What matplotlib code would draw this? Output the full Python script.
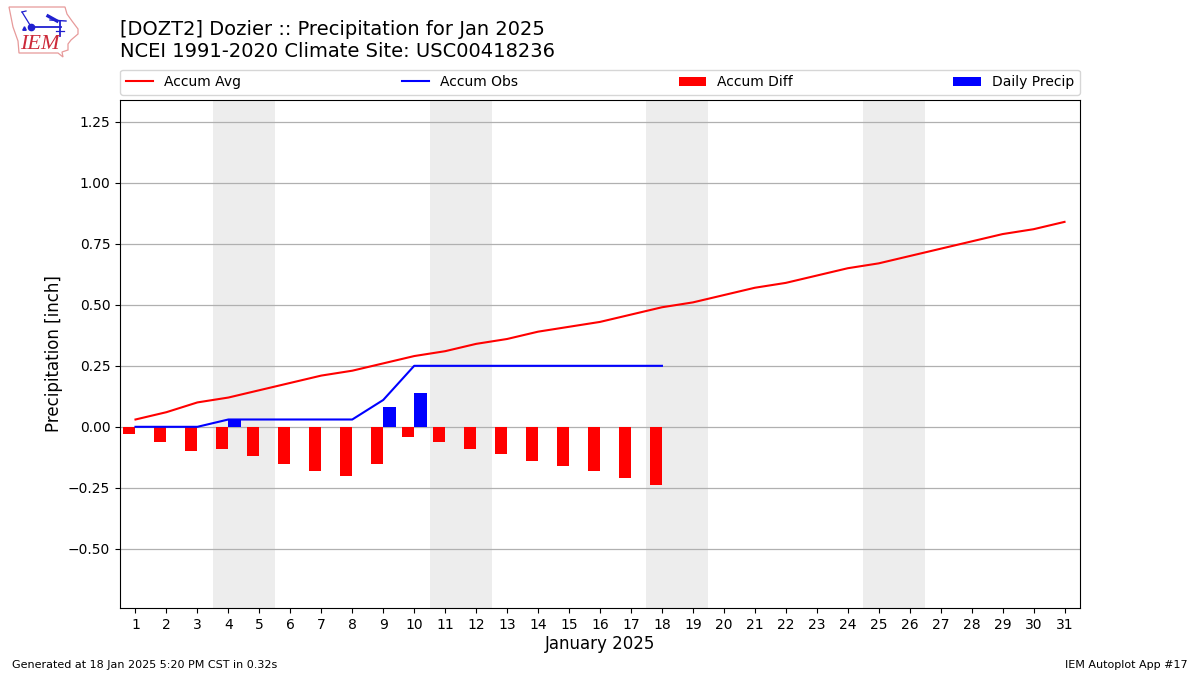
import matplotlib
matplotlib.use("Agg")
import matplotlib.pyplot as plt
from matplotlib.lines import Line2D
from matplotlib.patches import Polygon

days = list(range(1, 32))
accum_avg = [0.03, 0.06, 0.10, 0.12, 0.15, 0.18, 0.21, 0.23, 0.26, 0.29, 0.31, 0.34, 0.36, 0.39, 0.41, 0.43,
             0.46, 0.49, 0.51, 0.54, 0.57, 0.59, 0.62, 0.65, 0.67, 0.70, 0.73, 0.76, 0.79, 0.81, 0.84]
obs_days = list(range(1, 19))
accum_obs = [0, 0, 0, 0.03, 0.03, 0.03, 0.03, 0.03, 0.11, 0.25, 0.25, 0.25, 0.25, 0.25, 0.25, 0.25, 0.25, 0.25]
accum_diff = [-0.03, -0.062, -0.10, -0.09, -0.12, -0.152, -0.18, -0.20, -0.152, -0.04, -0.062, -0.09, -0.11,
              -0.14, -0.16, -0.18, -0.21, -0.24]
daily_precip = [0, 0, 0, 0.03, 0, 0, 0, 0, 0.08, 0.14, 0, 0, 0, 0, 0, 0, 0, 0]
weekends = [4, 11, 18, 25]
yticks = [-0.50, -0.25, 0, 0.25, 0.50, 0.75, 1.00, 1.25]

fig = plt.figure(figsize=(12, 6.75), dpi=100)
ax = fig.add_axes([0.1, 0.0995, 0.8, 0.7525])

for w in weekends:
    ax.axvspan(w - 0.5, w + 1.5, color="#ededed", lw=0, zorder=0)

ax.bar(days[:18], accum_diff, width=-0.4, align="edge", color="red", label="Accum Diff", zorder=2)
ax.bar(obs_days, daily_precip, width=0.4, align="edge", color="blue", label="Daily Precip", zorder=2)
ax.plot(days, accum_avg, color="red", lw=1.5, label="Accum Avg", zorder=3)
ax.plot(obs_days, accum_obs, color="blue", lw=1.5, label="Accum Obs", zorder=3)

ax.set_xlim(0.5, 31.5)
ax.set_ylim(-0.742, 1.34)
ax.set_xticks(days)
ax.set_yticks(yticks)
ax.set_axisbelow(True)
ax.yaxis.grid(True, color="#b0b0b0", lw=0.9)
ax.set_xlabel("January 2025", fontsize=12, labelpad=2.5)
ax.set_ylabel("Precipitation [inch]", fontsize=12, labelpad=3.6)

handles, labels = ax.get_legend_handles_labels()
order = ["Accum Avg", "Accum Obs", "Accum Diff", "Daily Precip"]
hmap = dict(zip(labels, handles))
ax.legend([hmap[k] for k in order], order, ncol=4, mode="expand", fontsize=10,
          loc="lower left", bbox_to_anchor=(0, 1.010, 1, 0.05), borderaxespad=0)

fig.text(0.1, 0.9095, "[DOZT2] Dozier :: Precipitation for Jan 2025\nNCEI 1991-2020 Climate Site: USC00418236",
         fontsize=14, va="bottom", ha="left", linespacing=1.2)
fig.text(0.01, 0.0075, "Generated at 18 Jan 2025 5:20 PM CST in 0.32s", fontsize=8, va="bottom")
fig.text(0.99, 0.0075, "IEM Autoplot App #17", fontsize=8, va="bottom", ha="right")

# IEM logo drawn in figure pixels
W, H = 1200, 675
def P(x, y):
    return (x / W, 1 - y / H)
def seg(points, **kw):
    fig.add_artist(Line2D([P(*s)[0] for s in points], [P(*s)[1] for s in points],
                          transform=fig.transFigure, **kw))
outline = [(9, 7), (65, 7), (67, 14), (72, 21), (78, 29), (78, 34), (71, 40), (68, 44), (68, 50), (62, 52),
           (63, 57), (58, 53), (19, 53), (18, 41), (13, 27), (11, 17)]
fig.add_artist(Polygon([P(*p) for p in outline], closed=True, fill=False, edgecolor="#e79a9a", lw=0.9,
                       transform=fig.transFigure))
blue = "#2020d0"
seg([(31, 27), (61, 27)], color=blue, lw=1.3)
seg([(60, 21), (60, 36)], color=blue, lw=1.3)
seg([(30, 25), (22, 12)], color=blue, lw=0.9)
seg([(22, 12), (26, 11)], color=blue, lw=0.9)
seg([(48, 16), (57, 21)], color=blue, lw=2.4)
seg([(50, 20), (66, 21)], color=blue, lw=1.0)
seg([(56, 31), (64, 31)], color=blue, lw=0.9)
seg([(31, 27)], color=blue, marker="o", ms=4.5, lw=0)
seg([(24, 28)], color=blue, marker="^", ms=2.5, lw=0)
fig.text(*P(20, 54), "IEM", color="#cc2a3a", fontsize=16, family="Liberation Serif", style="italic", va="bottom")

fig.savefig("out.png", dpi=100)
